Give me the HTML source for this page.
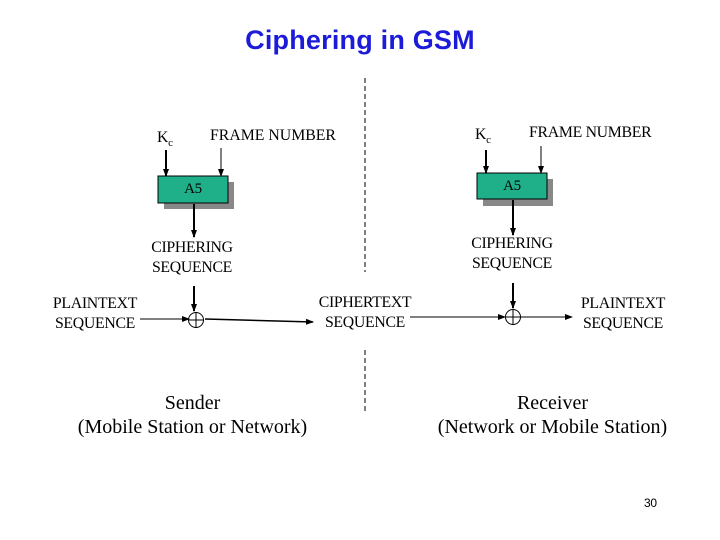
<!DOCTYPE html>
<html><head><style>
body{margin:0;width:720px;height:540px;background:#fff;overflow:hidden;position:relative;font-family:"Liberation Serif",serif;}
.t{position:absolute;font-size:15.8px;color:#000;text-align:center;line-height:20px;white-space:nowrap;letter-spacing:-0.3px}
</style></head><body>
<div style="position:absolute;left:0;width:720px;top:25px;text-align:center;font:bold 27px 'Liberation Sans',sans-serif;color:#1c1cd8;letter-spacing:0.2px">Ciphering in GSM</div>
<svg width="720" height="540" style="position:absolute;left:0;top:0">
<defs><marker id="a" markerWidth="8" markerHeight="8" refX="7" refY="4" orient="auto" markerUnits="userSpaceOnUse"><path d="M0,1 L8,4 L0,7z" fill="#000"/></marker></defs>
<line x1="365" y1="78" x2="365" y2="272" stroke="#000" stroke-dasharray="5,3"/>
<line x1="365" y1="350" x2="365" y2="412" stroke="#000" stroke-dasharray="5,3"/>
<rect x="164" y="182" width="70" height="27" fill="#888"/>
<rect x="158" y="176" width="70" height="27" fill="#1fb08a" stroke="#000"/>
<rect x="483" y="179" width="70" height="27" fill="#888"/>
<rect x="477" y="173" width="70" height="26" fill="#1fb08a" stroke="#000"/>
<g stroke="#000" marker-end="url(#a)">
<line x1="166" y1="150" x2="166" y2="176" stroke-width="2"/>
<line x1="221" y1="148" x2="221" y2="176"/>
<line x1="194" y1="204" x2="194" y2="237" stroke-width="2"/>
<line x1="194" y1="286" x2="194" y2="311" stroke-width="2"/>
<line x1="140" y1="319" x2="189" y2="319"/>
<line x1="205" y1="319" x2="313" y2="322" stroke-width="1.5"/>
<line x1="486" y1="150" x2="486" y2="173" stroke-width="2"/>
<line x1="541" y1="146" x2="541" y2="173"/>
<line x1="513" y1="200" x2="513" y2="235" stroke-width="2"/>
<line x1="513" y1="283" x2="513" y2="308" stroke-width="2"/>
<line x1="410" y1="317" x2="505" y2="317"/>
<line x1="521" y1="317" x2="572" y2="317"/>
</g>
<g fill="none" stroke="#000">
<circle cx="196" cy="320" r="7.5"/><line x1="188.5" y1="320" x2="203.5" y2="320"/><line x1="196" y1="312.5" x2="196" y2="327.5"/>
<circle cx="513" cy="317" r="7.5"/><line x1="505.5" y1="317" x2="520.5" y2="317"/><line x1="513" y1="309.5" x2="513" y2="324.5"/>
</g>
</svg>
<div class="t" style="left:157px;top:128px">K<sub style="font-size:11px">c</sub></div>
<div class="t" style="left:210px;top:126px;letter-spacing:0">FRAME NUMBER</div>
<div class="t" style="left:158px;top:179px;width:70px;font-size:15px">A5</div>
<div class="t" style="left:130px;top:238px;width:124px">CIPHERING<br>SEQUENCE</div>
<div class="t" style="left:40px;top:294px;width:110px">PLAINTEXT<br>SEQUENCE</div>
<div class="t" style="left:305px;top:293px;width:120px">CIPHERTEXT<br>SEQUENCE</div>
<div class="t" style="left:475px;top:125px">K<sub style="font-size:11px">c</sub></div>
<div class="t" style="left:529px;top:123px">FRAME NUMBER</div>
<div class="t" style="left:477px;top:176px;width:70px;font-size:15px">A5</div>
<div class="t" style="left:450px;top:234px;width:124px">CIPHERING<br>SEQUENCE</div>
<div class="t" style="left:568px;top:294px;width:110px">PLAINTEXT<br>SEQUENCE</div>
<div class="t" style="left:60px;top:391px;width:265px;font-size:20px;line-height:24px;letter-spacing:0">Sender<br>(Mobile Station or Network)</div>
<div class="t" style="left:420px;top:391px;width:265px;font-size:20px;line-height:24px;letter-spacing:0">Receiver<br>(Network or Mobile Station)</div>
<div class="t" style="left:644px;top:496px;font:12px 'Liberation Sans',sans-serif">30</div>
</body></html>
